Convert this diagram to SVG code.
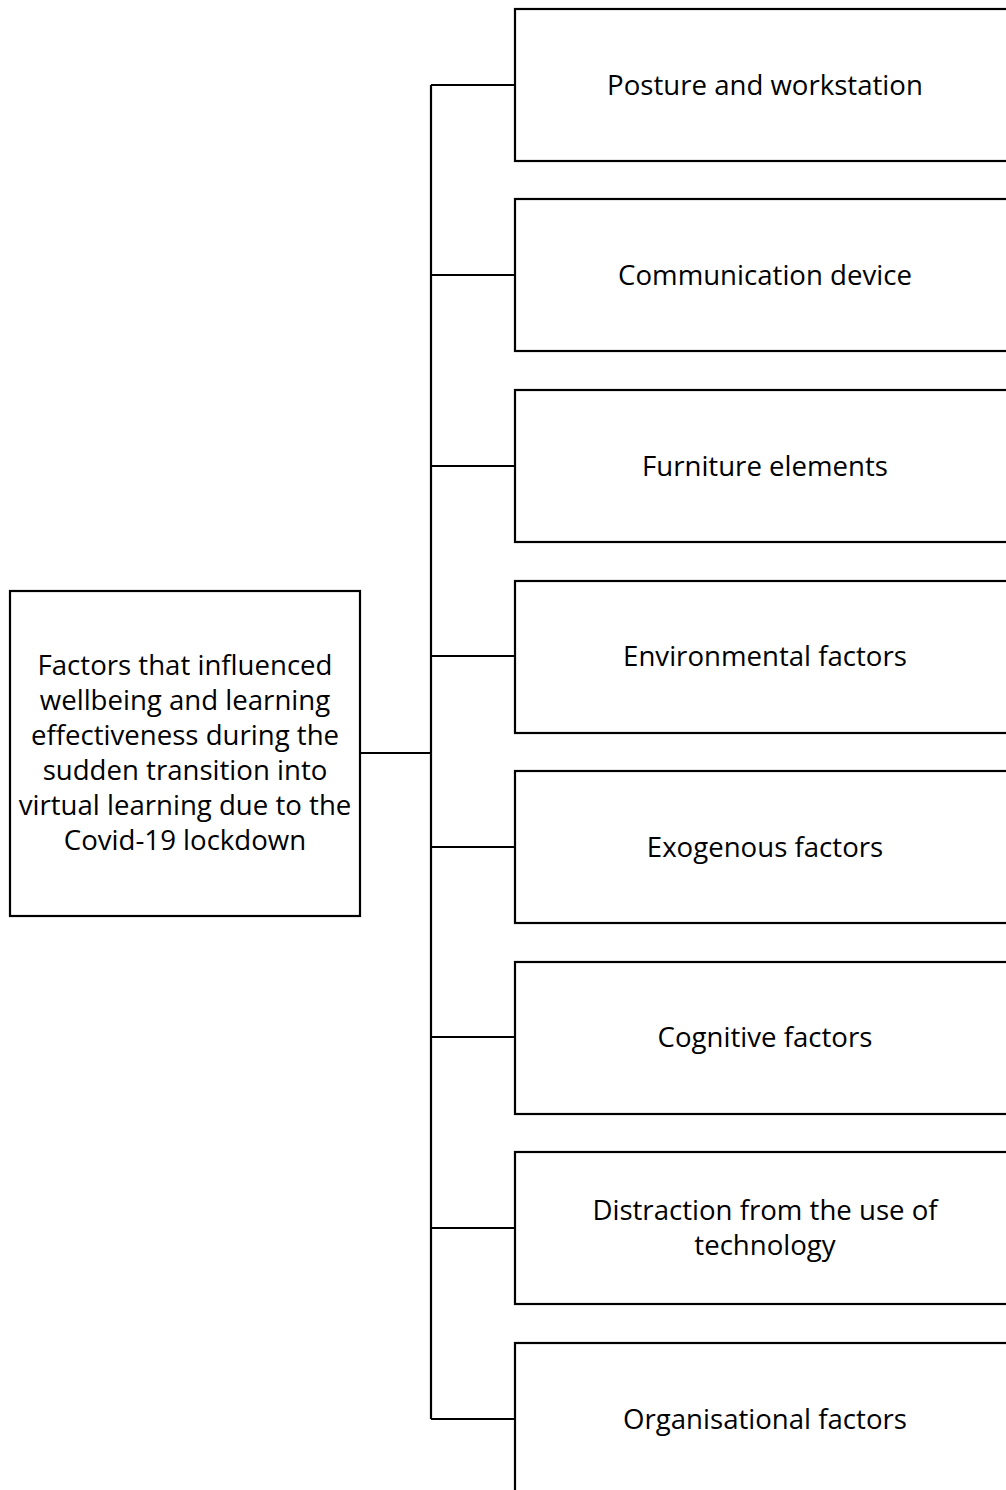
<svg xmlns="http://www.w3.org/2000/svg" width="1006" height="1490" viewBox="0 0 1006 1490">
<style>
.box{fill:#fff;stroke:#000;stroke-width:2.2}
.lbl{font-family:"Open Sans","Liberation Sans",sans-serif;font-size:27.6px;fill:#000;text-anchor:middle}
.conn{fill:none;stroke:#000;stroke-width:2.2}
</style>
<rect width="1006" height="1490" fill="#fff"/>
<g id="connectors">
<path class="conn" d="M360 753H431M431 85V1419M431 85H515M431 275H515M431 466H515M431 656H515M431 847H515M431 1037H515M431 1228H515M431 1419H515"/>
</g>
<g id="root">
<rect class="box" x="10" y="591" width="350" height="325"/>
<text class="lbl" x="185" y="675">Factors that influenced</text>
<text class="lbl" x="185" y="710">wellbeing and learning</text>
<text class="lbl" x="185" y="745">effectiveness during the</text>
<text class="lbl" x="185" y="780">sudden transition into</text>
<text class="lbl" x="185" y="815">virtual learning due to the</text>
<text class="lbl" x="185" y="850">Covid-19 lockdown</text>
</g>
<g id="n1"><rect class="box" x="515" y="9" width="500" height="152"/><text class="lbl" x="765" y="95">Posture and workstation</text></g>
<g id="n2"><rect class="box" x="515" y="199" width="500" height="152"/><text class="lbl" x="765" y="285">Communication device</text></g>
<g id="n3"><rect class="box" x="515" y="390" width="500" height="152"/><text class="lbl" x="765" y="476">Furniture elements</text></g>
<g id="n4"><rect class="box" x="515" y="581" width="500" height="152"/><text class="lbl" x="765" y="666">Environmental factors</text></g>
<g id="n5"><rect class="box" x="515" y="771" width="500" height="152"/><text class="lbl" x="765" y="857">Exogenous factors</text></g>
<g id="n6"><rect class="box" x="515" y="962" width="500" height="152"/><text class="lbl" x="765" y="1047">Cognitive factors</text></g>
<g id="n7"><rect class="box" x="515" y="1152" width="500" height="152"/><text class="lbl" x="765" y="1220">Distraction from the use of</text><text class="lbl" x="765" y="1255">technology</text></g>
<g id="n8"><rect class="box" x="515" y="1343" width="500" height="160"/><text class="lbl" x="765" y="1429">Organisational factors</text></g>
</svg>
